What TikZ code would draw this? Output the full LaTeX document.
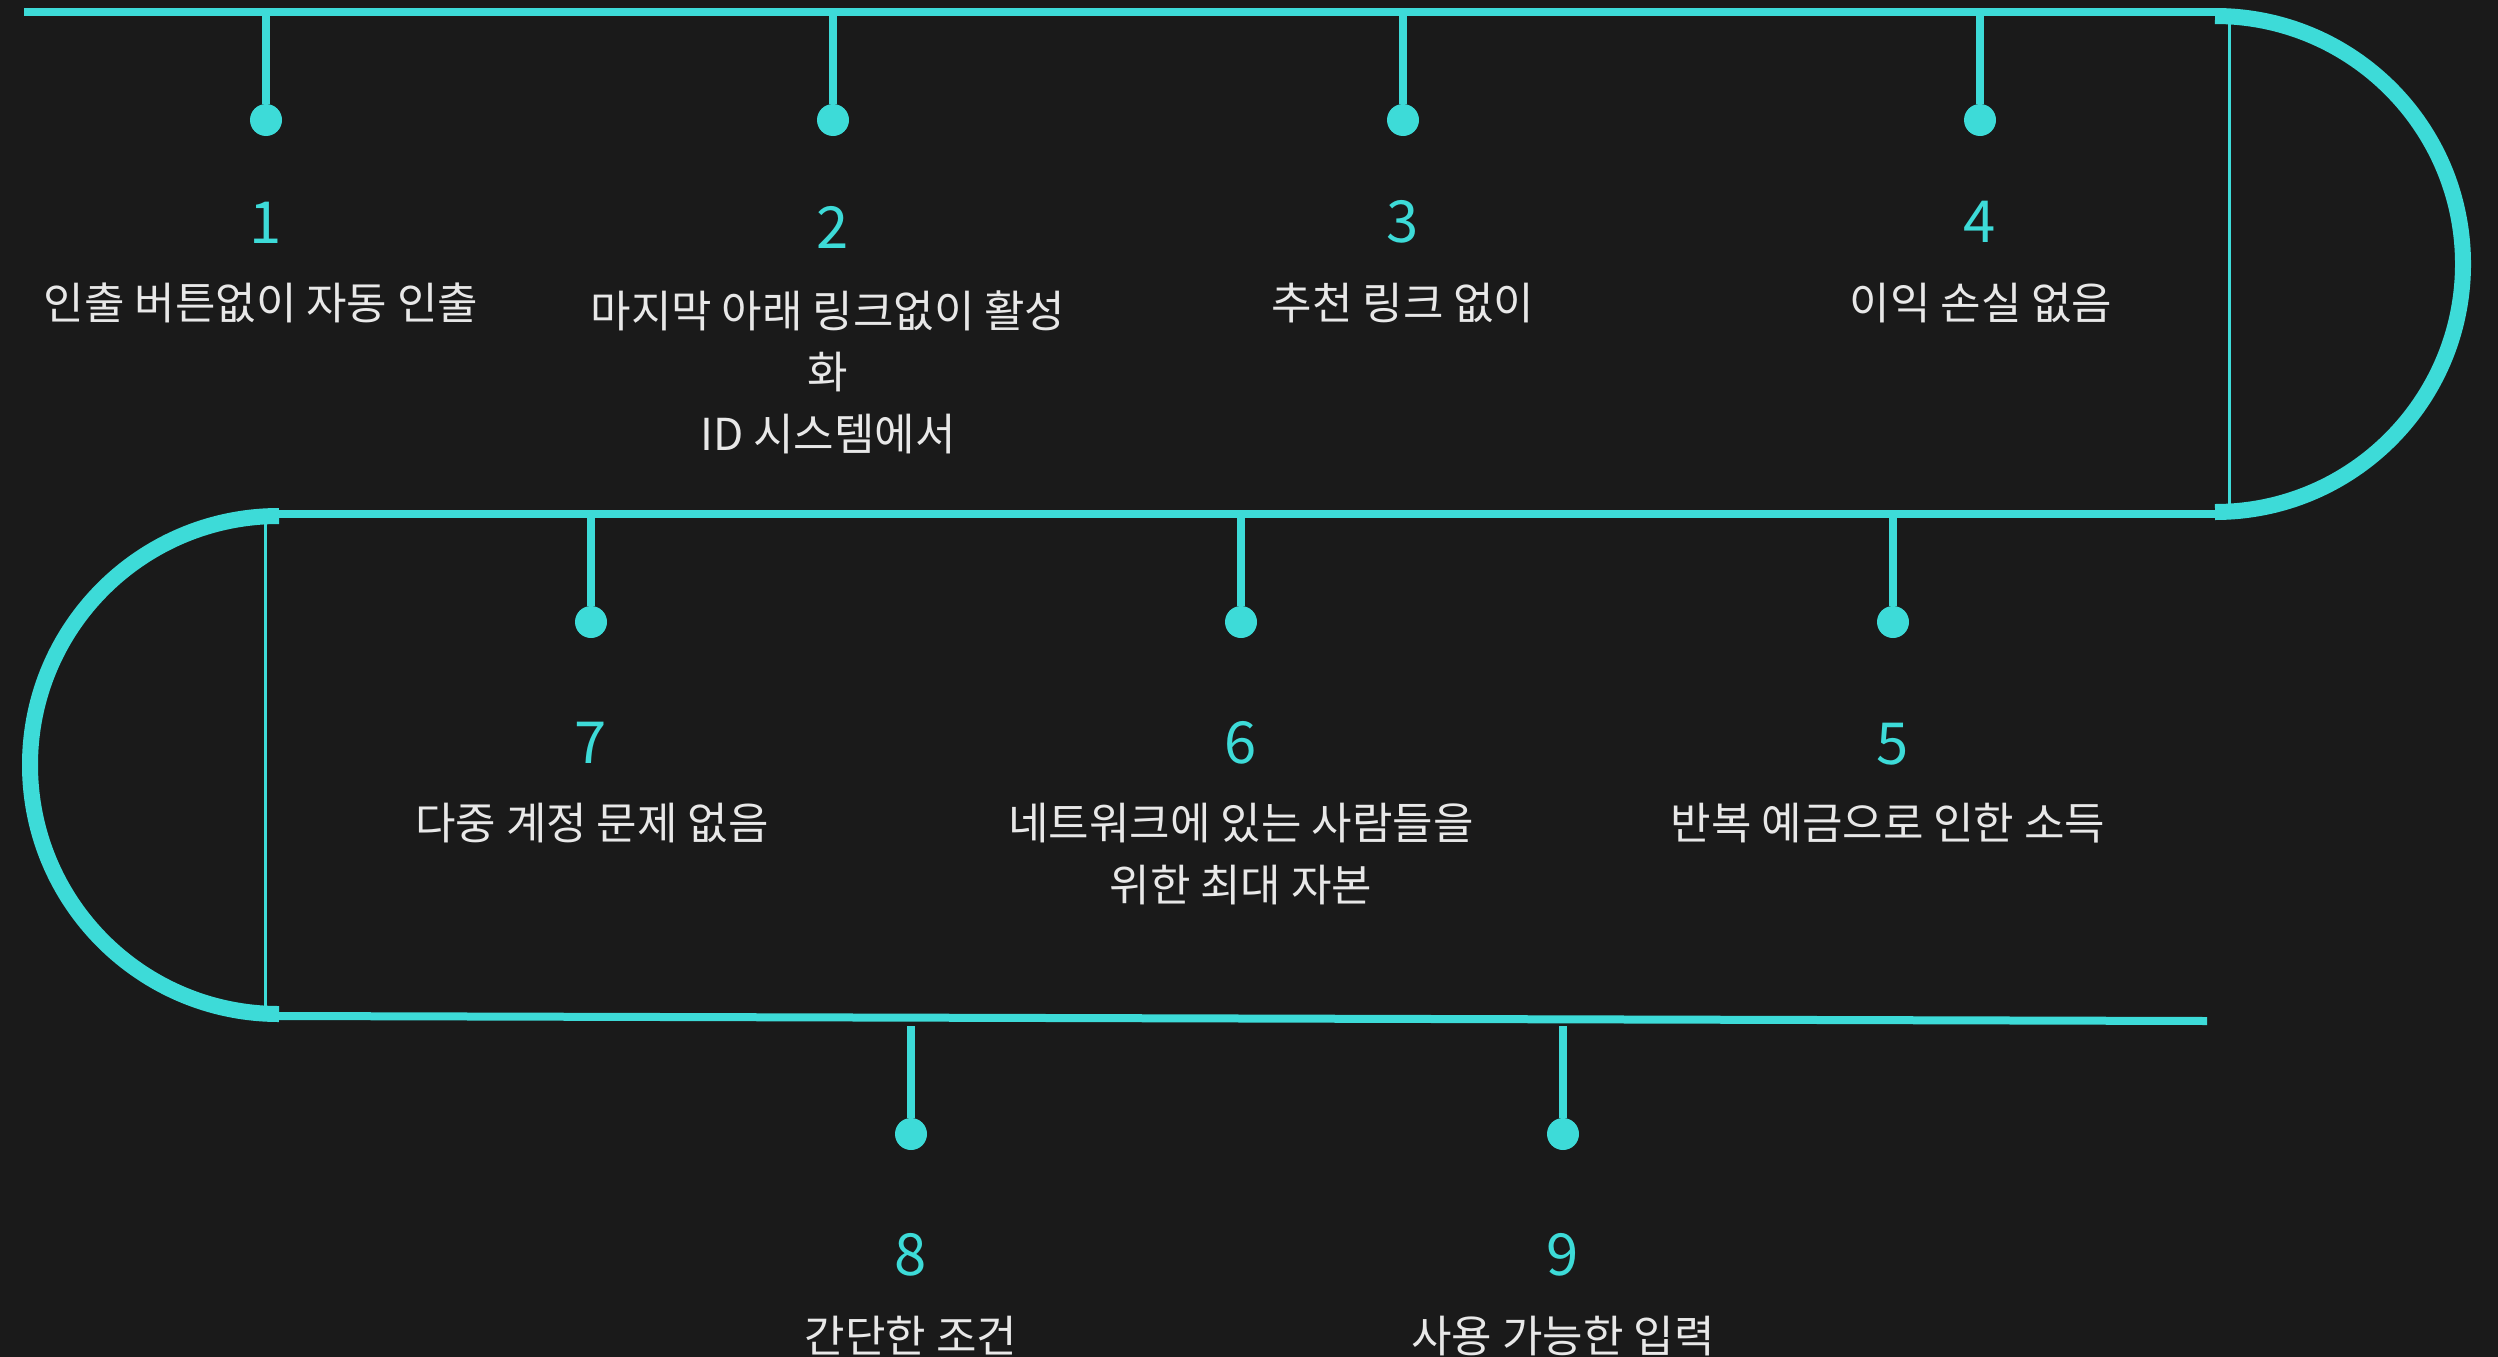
\documentclass[tikz,border=0pt]{standalone}
\usepackage{fontspec}
\setmainfont{Noto Sans CJK KR}
\definecolor{lineclr}{HTML}{3DDBD8}
\definecolor{txtclr}{HTML}{E8E8E8}
\definecolor{bgclr}{HTML}{1A1A1A}

\begin{document}
\begin{tikzpicture}[x=1pt,y=1pt]
\tikzstyle{every node}+=[inner sep=0pt]
\tikzstyle{bead}=[circle,fill=lineclr,minimum size=32pt]
\tikzstyle{num}=[text=lineclr,font=\fontsize{58}{60}\selectfont,anchor=base]
\tikzstyle{lbl}=[text=txtclr,font=\fontsize{44}{61.5}\selectfont,anchor=base,align=center]
\tikzstyle{track}=[draw=lineclr,line width=8pt]
\tikzstyle{loopline}=[draw=lineclr,line width=16pt]
\tikzstyle{droplink}=[draw=lineclr,line width=7.5pt]
\tikzstyle{ribline}=[draw=lineclr,line width=3pt]
\fill[bgclr] (0,0) rectangle (2498,-1357);
\useasboundingbox (0,0) rectangle (2498,-1357);
\coordinate (a0) at (24,-12);
\coordinate (a1) at (2215,-12);
\coordinate (b0) at (279,-514);
\coordinate (b1) at (2215,-514);
\coordinate (c0) at (279,-1016);
\coordinate (c1) at (2207,-1021);
\coordinate (r0) at (2215,-16);
\coordinate (q0) at (279,-516);
\draw[track] (a0) -- (a1);
\draw[track] (b0) -- (b1);
\draw[track] (c0) -- (c1);
\draw[loopline] (r0) arc[start angle=90,end angle=-90,radius=248];
\draw[loopline] (q0) arc[start angle=90,end angle=270,radius=249];
\draw[ribline] (2229,-24) -- (2229,-504);
\draw[ribline] (265,-524) -- (265,-1006);
\coordinate (s1) at (266,-12);
\coordinate (s2) at (833,-12);
\coordinate (s3) at (1403,-12);
\coordinate (s4) at (1980,-12);
\coordinate (s5) at (1893,-514);
\coordinate (s6) at (1241,-514);
\coordinate (s7) at (591,-514);
\coordinate (s8) at (911,-1026);
\coordinate (s9) at (1563,-1026);
\node[bead] (d1) at (266,-120) {};
\node[bead] (d2) at (833,-120) {};
\node[bead] (d3) at (1403,-120) {};
\node[bead] (d4) at (1980,-120) {};
\node[bead] (d5) at (1893,-622) {};
\node[bead] (d6) at (1241,-622) {};
\node[bead] (d7) at (591,-622) {};
\node[bead] (d8) at (911,-1134) {};
\node[bead] (d9) at (1563,-1134) {};
\draw[droplink] (s1) -- (d1);
\draw[droplink] (s2) -- (d2);
\draw[droplink] (s3) -- (d3);
\draw[droplink] (s4) -- (d4);
\draw[droplink] (s5) -- (d5);
\draw[droplink] (s6) -- (d6);
\draw[droplink] (s7) -- (d7);
\draw[droplink] (s8) -- (d8);
\draw[droplink] (s9) -- (d9);
\node[num] (n1) at (266,-243) {1};
\node[num] (n2) at (833,-248) {2};
\node[num] (n3) at (1403,-242) {3};
\node[num] (n4) at (1980,-242) {4};
\node[num] (n5) at (1893,-764) {5};
\node[num] (n6) at (1241,-763) {6};
\node[num] (n7) at (591,-763) {7};
\node[num] (n8) at (911,-1275) {8};
\node[num] (n9) at (1563,-1275) {9};
\node[lbl] (l1) at (261,-319) {인출 버튼없이 자동 인출};
\node[lbl] (l2) at (828,-450) {마지막 아래 링크없이 활성\\화\\ID 시스템에서};
\node[lbl] (l3) at (1403,-319) {추천 링크 없이};
\node[lbl] (l4) at (1981,-319) {이익 손실 없음};
\node[lbl] (l5) at (1888,-839) {반복 예금으로 인한 소득};
\node[lbl] (l6) at (1241,-901) {네트워크에 있는 사람들을\\위한 최대 자본};
\node[lbl] (l7) at (592,-839) {다중 계정 문제 없음};
\node[lbl] (l8) at (911,-1352) {간단한 조건};
\node[lbl] (l9) at (1563,-1352) {사용 가능한 입력};
\end{tikzpicture}
\end{document}
